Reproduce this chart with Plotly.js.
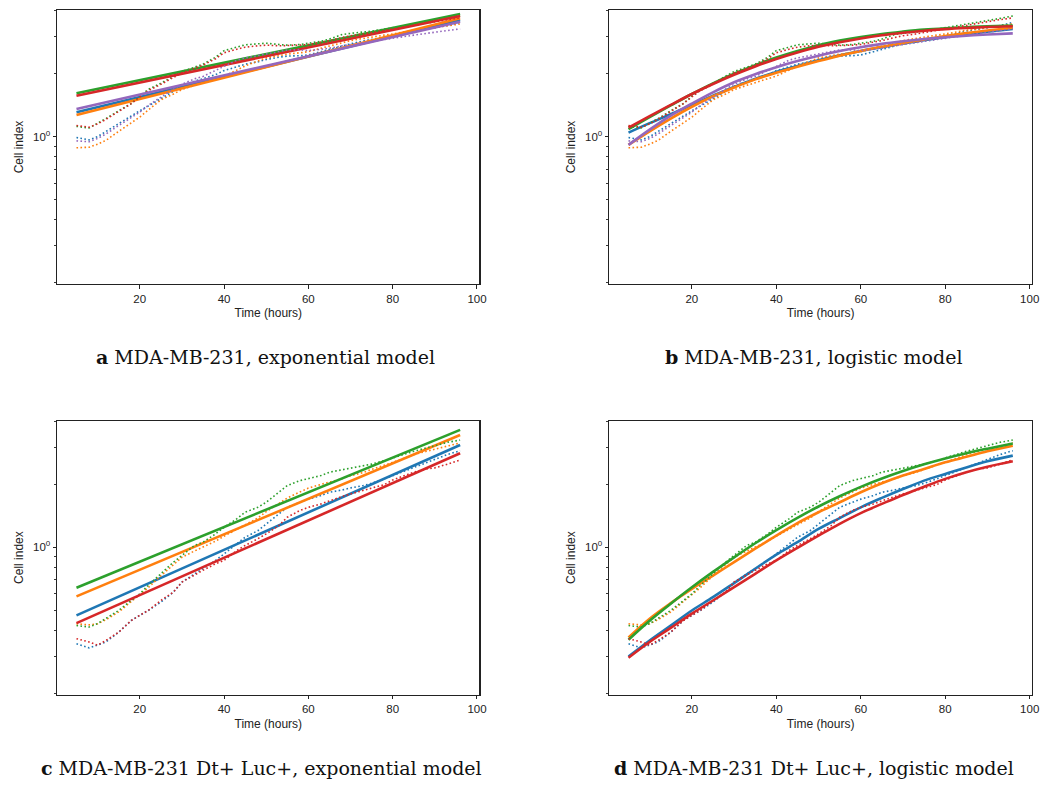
<!DOCTYPE html>
<html><head><meta charset="utf-8">
<script src="https://cdn.plot.ly/plotly-3.0.1.min.js"></script>
<style>html,body{margin:0;padding:0;background:#fff}#chart{width:1045px;height:785px}</style>
</head><body><div id="chart"></div>
<script>
// ---------- time grids ----------
const tData = [5,8,10,12,15,18,20,22,25,28,30,33,35,38,40,43,45,48,50,53,55,58,60,63,65,68,70,73,75,78,80,83,85,88,90,93,96];
const tExp = [5, 96];
const tLog = [5,10,15,20,25,30,35,40,45,50,55,60,65,70,75,80,85,90,96];

// ---------- MDA-MB-231 measured cell index (panels a, b) ----------
const mdaBlue   = [0.99,0.965,1.00,1.06,1.15,1.25,1.33,1.40,1.52,1.65,1.74,1.84,1.90,1.98,2.07,2.16,2.22,2.28,2.34,2.40,2.43,2.44,2.46,2.55,2.62,2.72,2.78,2.87,2.92,2.98,3.04,3.13,3.20,3.26,3.32,3.40,3.52];
const mdaOrange = [0.885,0.89,0.92,0.96,1.06,1.16,1.24,1.34,1.50,1.60,1.68,1.76,1.81,1.88,1.95,2.08,2.18,2.30,2.38,2.44,2.48,2.52,2.55,2.65,2.72,2.82,2.88,2.95,3.00,3.06,3.10,3.18,3.23,3.28,3.33,3.39,3.46];
const mdaGreen  = [1.12,1.10,1.16,1.22,1.33,1.44,1.56,1.68,1.80,1.95,2.05,2.15,2.22,2.40,2.58,2.68,2.75,2.78,2.80,2.76,2.74,2.76,2.80,2.86,2.93,3.08,3.12,3.16,3.20,3.27,3.32,3.40,3.46,3.55,3.60,3.68,3.78];
const mdaRed    = [1.13,1.11,1.15,1.21,1.32,1.44,1.55,1.66,1.78,1.92,2.02,2.12,2.20,2.36,2.52,2.62,2.68,2.72,2.74,2.72,2.72,2.74,2.76,2.82,2.88,2.98,3.04,3.10,3.15,3.22,3.28,3.36,3.42,3.50,3.56,3.63,3.70];
const mdaPurple = [0.955,0.945,0.98,1.03,1.13,1.23,1.31,1.41,1.55,1.69,1.78,1.89,1.94,2.08,2.16,2.32,2.38,2.44,2.48,2.56,2.60,2.60,2.58,2.62,2.65,2.72,2.76,2.82,2.86,2.92,2.96,3.02,3.06,3.12,3.16,3.21,3.28];

// exponential fits (panel a), values at tExp
const expA_Blue   = [1.308, 3.618];
const expA_Orange = [1.270, 3.686];
const expA_Green  = [1.613, 3.865];
const expA_Red    = [1.571, 3.780];
const expA_Purple = [1.357, 3.550];

// logistic fits (panel b), values at tLog
const logB_Blue   = [1.045,1.16,1.28,1.42,1.57,1.73,1.89,2.04,2.18,2.32,2.45,2.57,2.68,2.79,2.89,2.99,3.09,3.18,3.28];
const logB_Orange = [0.913,1.06,1.22,1.39,1.56,1.72,1.88,2.02,2.16,2.30,2.44,2.57,2.69,2.80,2.92,3.03,3.13,3.22,3.32];
const logB_Green  = [1.085,1.24,1.41,1.60,1.80,2.00,2.20,2.39,2.57,2.74,2.88,3.00,3.10,3.18,3.25,3.30,3.34,3.37,3.40];
const logB_Red    = [1.104,1.253,1.419,1.600,1.786,1.977,2.168,2.355,2.529,2.692,2.831,2.951,3.055,3.141,3.214,3.270,3.311,3.345,3.373];
const logB_Purple = [0.913,1.08,1.26,1.44,1.63,1.82,1.99,2.15,2.30,2.44,2.57,2.68,2.78,2.86,2.93,2.99,3.04,3.08,3.12];

// ---------- MDA-MB-231 Dt+ Luc+ measured cell index (panels c, d) ----------
const dtBlue   = [0.345,0.33,0.34,0.352,0.392,0.446,0.472,0.498,0.546,0.61,0.681,0.746,0.789,0.865,0.93,1.04,1.116,1.20,1.295,1.445,1.553,1.642,1.70,1.768,1.833,1.88,1.924,1.973,2.024,2.125,2.204,2.33,2.41,2.55,2.64,2.78,2.90];
const dtOrange = [0.43,0.425,0.43,0.45,0.49,0.55,0.59,0.64,0.73,0.83,0.895,0.96,1.00,1.07,1.13,1.22,1.29,1.38,1.48,1.62,1.72,1.84,1.92,2.00,2.05,2.13,2.20,2.28,2.36,2.46,2.55,2.68,2.78,2.88,2.95,3.06,3.16];
const dtGreen  = [0.422,0.415,0.431,0.455,0.498,0.556,0.598,0.656,0.746,0.849,0.913,1.02,1.057,1.159,1.246,1.367,1.471,1.553,1.642,1.833,1.973,2.085,2.125,2.204,2.288,2.345,2.40,2.46,2.50,2.60,2.68,2.80,2.88,2.99,3.06,3.18,3.26];
const dtRed    = [0.365,0.352,0.34,0.358,0.392,0.446,0.472,0.498,0.556,0.61,0.681,0.74,0.776,0.834,0.865,0.964,1.02,1.098,1.159,1.27,1.392,1.50,1.553,1.613,1.672,1.75,1.80,1.87,1.924,1.995,2.10,2.204,2.288,2.37,2.40,2.50,2.62];

// exponential fits (panel c)
const expC_Blue   = [0.472, 3.09];
const expC_Orange = [0.582, 3.45];
const expC_Green  = [0.640, 3.65];
const expC_Red    = [0.433, 2.82];

// logistic fits (panel d)
const logD_Blue   = [0.30,0.358,0.422,0.498,0.577,0.674,0.789,0.923,1.057,1.225,1.38,1.553,1.723,1.90,2.085,2.245,2.41,2.58,2.747];
const logD_Orange = [0.37,0.455,0.540,0.632,0.731,0.849,0.984,1.137,1.305,1.471,1.642,1.833,2.024,2.204,2.37,2.55,2.71,2.88,3.06];
const logD_Green  = [0.361,0.445,0.537,0.643,0.762,0.895,1.045,1.208,1.384,1.567,1.754,1.945,2.133,2.317,2.495,2.661,2.818,2.965,3.141];
const logD_Red    = [0.296,0.352,0.411,0.481,0.556,0.644,0.746,0.865,0.993,1.137,1.295,1.458,1.613,1.78,1.95,2.125,2.288,2.43,2.58];

// ---------- text ----------
const captions = [
  '<b>a</b> MDA-MB-231, exponential model',
  '<b>b</b> MDA-MB-231, logistic model',
  '<b>c</b> MDA-MB-231 Dt+ Luc+, exponential model',
  '<b>d</b> MDA-MB-231 Dt+ Luc+, logistic model'
];
const xTickVals = [20,40,60,80,100];
const yMinorVals = [0.2,0.3,0.4,0.5,0.6,0.7,0.8,0.9,2,3,4];

const C = {blue:'#1f77b4', orange:'#ff7f0e', green:'#2ca02c', red:'#d62728', purple:'#9467bd'};

const traces = [];
function addPanel(xa, ya, series, fitT, shape) {
  series.forEach(s => {
    traces.push({x:tData, y:s.data, xaxis:xa, yaxis:ya, mode:'lines', showlegend:false,
      line:{color:s.color, width:1.6, dash:'1.6px,2.4px'}, hoverinfo:'skip'});
    traces.push({x:fitT, y:s.fit, xaxis:xa, yaxis:ya, mode:'lines', showlegend:false,
      line:{color:s.color, width:2.6, shape:shape}, hoverinfo:'skip'});
  });
}
addPanel('x','y',[
  {data:mdaBlue, fit:expA_Blue, color:C.blue},
  {data:mdaOrange, fit:expA_Orange, color:C.orange},
  {data:mdaGreen, fit:expA_Green, color:C.green},
  {data:mdaRed, fit:expA_Red, color:C.red},
  {data:mdaPurple, fit:expA_Purple, color:C.purple}], tExp, 'linear');
addPanel('x2','y2',[
  {data:mdaBlue, fit:logB_Blue, color:C.blue},
  {data:mdaOrange, fit:logB_Orange, color:C.orange},
  {data:mdaGreen, fit:logB_Green, color:C.green},
  {data:mdaRed, fit:logB_Red, color:C.red},
  {data:mdaPurple, fit:logB_Purple, color:C.purple}], tLog, 'spline');
addPanel('x3','y3',[
  {data:dtBlue, fit:expC_Blue, color:C.blue},
  {data:dtOrange, fit:expC_Orange, color:C.orange},
  {data:dtGreen, fit:expC_Green, color:C.green},
  {data:dtRed, fit:expC_Red, color:C.red}], tExp, 'linear');
addPanel('x4','y4',[
  {data:dtBlue, fit:logD_Blue, color:C.blue},
  {data:dtOrange, fit:logD_Orange, color:C.orange},
  {data:dtGreen, fit:logD_Green, color:C.green},
  {data:dtRed, fit:logD_Red, color:C.red}], tLog, 'spline');

const W = 1045, H = 785;
const sans = 'Liberation Sans, Arial, sans-serif';
const axCol = '#222';
function xAx(l, r, anchor) {
  return {domain:[l/W, r/W], anchor:anchor, range:[0.45,100.55], tickmode:'array', tickvals:xTickVals,
    ticks:'outside', ticklen:3.5, tickwidth:1, tickcolor:axCol, showline:true, linecolor:axCol, linewidth:1.2,
    mirror:true, showgrid:false, zeroline:false, tickfont:{family:sans, size:11.5, color:axCol},
    title:{text:'Time (hours)', font:{family:sans, size:12, color:axCol}, standoff:5}};
}
function yAx(top, bottom, anchor) {
  return {domain:[1-bottom/H, 1-top/H], anchor:anchor, type:'log', range:[-0.705, 0.606],
    tickmode:'array', tickvals:[1], ticktext:['10<sup>0</sup>'],
    ticks:'outside', ticklen:3.5, tickwidth:1, tickcolor:axCol, showline:true, linecolor:axCol, linewidth:1.2,
    mirror:true, showgrid:false, zeroline:false, tickfont:{family:sans, size:11.5, color:axCol},
    minor:{tickmode:'array', tickvals:yMinorVals, ticks:'outside', ticklen:2.2, tickwidth:0.9, tickcolor:axCol, showgrid:false},
    title:{text:'Cell index', font:{family:sans, size:12, color:axCol}, standoff:6}};
}
const capFont = {family:'DejaVu Serif, serif', size:19, color:'#111'};
const layout = {
  width:W, height:H, margin:{l:0,r:0,t:0,b:0}, paper_bgcolor:'#fff', plot_bgcolor:'#fff', showlegend:false,
  xaxis: xAx(57.3, 479.3, 'y'), yaxis: yAx(10, 284, 'x'),
  xaxis2: xAx(609.3, 1032, 'y2'), yaxis2: yAx(10, 284, 'x2'),
  xaxis3: xAx(57.3, 479.3, 'y3'), yaxis3: yAx(420.7, 694.5, 'x3'),
  xaxis4: xAx(609.3, 1032, 'y4'), yaxis4: yAx(420.7, 694.5, 'x4'),
  annotations: [
    {text:captions[0], x:265/W, y:1-357/H},
    {text:captions[1], x:814/W, y:1-357/H},
    {text:captions[2], x:261/W, y:1-768/H},
    {text:captions[3], x:814/W, y:1-768/H}
  ].map(a => Object.assign(a, {xref:'paper', yref:'paper', xanchor:'center', yanchor:'middle', showarrow:false, font:capFont}))
};
Plotly.newPlot('chart', traces, layout, {staticPlot:true, displayModeBar:false});
</script></body></html>
